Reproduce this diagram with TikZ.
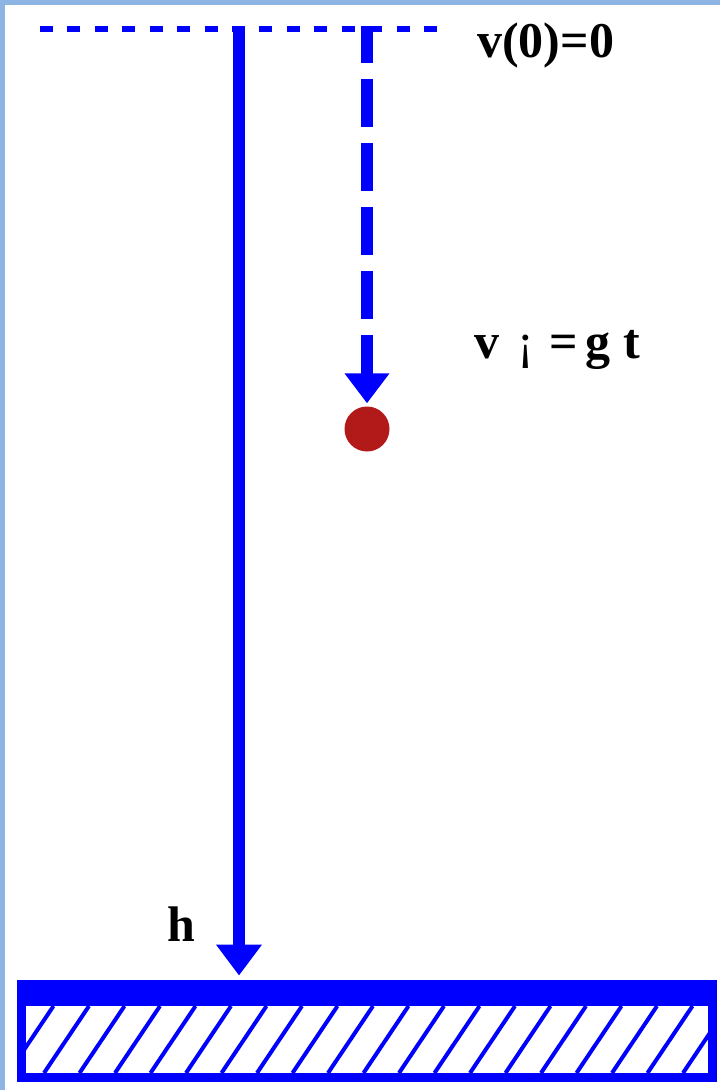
\documentclass[tikz,border=0pt]{standalone}
\usepackage{fontspec}
\setmainfont{Liberation Serif}
\usetikzlibrary{arrows.meta}
\definecolor{frameblue}{RGB}{141,180,226}
\definecolor{ballred}{RGB}{178,26,26}
\definecolor{pureblue}{RGB}{0,0,255}
\begin{document}
\begin{tikzpicture}[x=1pt,y=-1pt,
  lbl/.style={font=\fontsize{50}{60}\selectfont\bfseries, inner sep=0pt, anchor=base west, text=black},
  solidfall/.style={draw=pureblue, line width=12pt, -{Triangle[width=44pt,length=31pt]}},
  dashfall/.style={draw=pureblue, line width=12pt, dash pattern=on 48pt off 16pt, dash phase=11pt, -{Triangle[width=43pt,length=30pt]}},
  levelline/.style={draw=pureblue, line width=6pt, dash pattern=on 13pt off 14.43pt},
  hatchline/.style={draw=pureblue, line width=4pt},
  groundbox/.style={draw=pureblue, line width=9pt, minimum width=691pt, minimum height=93pt, inner sep=0pt},
  ballstyle/.style={circle, fill=ballred, minimum size=45pt, inner sep=0pt}]
\useasboundingbox (0,0) rectangle (720,1090);
% frame
\fill[frameblue] (0,0) rectangle (5,1090);
\fill[frameblue] (0,0) rectangle (720,5);
% level line
\coordinate (h0) at (40,29);
\coordinate (h1) at (437,29);
\draw[levelline] (h0) -- (h1);
% ground
\node[groundbox] (ground) at (367,1031) {};
\fill[pureblue] (17,980) rectangle (717,1006);
\begin{scope}
  \clip (26,1006) rectangle (708,1073);
  \foreach \k in {-2,...,20}
    \draw[hatchline] ({44+35.5*\k},1073) -- ({89+35.5*\k},1006);
\end{scope}
% ball
\node[ballstyle] (ball) at (367,429) {};
% falls
\coordinate (s0) at (239,26);
\coordinate (d0) at (367,26);
\draw[solidfall, shorten >=4.5pt] (s0) -- (s0 |- ground.north);
\draw[dashfall, shorten >=3pt] (d0) -- (ball.north);
% labels
\node[lbl] (v0) at (477,57) {v(0)=0};
\node[lbl] (vt) at (474,358) {v\hspace{18pt}{\mdseries ¡}\hspace{16pt}=\hspace{7pt}g\hspace{13pt}t};
\node[lbl] (hlab) at (167,941) {h};
\end{tikzpicture}
\end{document}
